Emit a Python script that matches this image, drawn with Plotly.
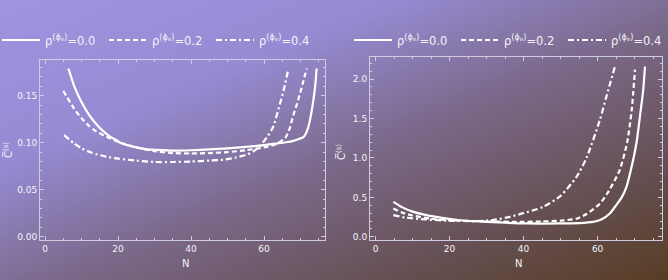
import base64
import plotly.graph_objects as go

# ---------------- data ----------------
L_x0 = [6.4, 8, 10, 12, 14, 16, 18, 19.5, 20.5, 22, 25, 28, 30, 35, 40, 45, 50, 55, 60, 63, 66, 68, 69.5, 70.8, 72, 73.1, 74, 74.4]
L_y0 = [0.179, 0.160, 0.143, 0.130, 0.120, 0.112, 0.106, 0.103, 0.100, 0.098, 0.095, 0.093, 0.0925, 0.0915, 0.092, 0.093, 0.094, 0.0955, 0.0975, 0.099, 0.1005, 0.102, 0.104, 0.106, 0.115, 0.135, 0.160, 0.179]
L_x2 = [5, 8, 10, 12, 14, 17, 20, 25, 30, 35, 40, 45, 50, 55, 60, 63, 65.8, 67, 68, 69, 69.9, 70.8, 71.7]
L_y2 = [0.155, 0.136, 0.126, 0.118, 0.112, 0.106, 0.101, 0.095, 0.091, 0.089, 0.0885, 0.089, 0.090, 0.092, 0.095, 0.098, 0.105, 0.115, 0.129, 0.141, 0.153, 0.166, 0.179]
L_x4 = [5.2, 8, 10, 13, 16.9, 20, 25, 30, 35, 40, 45, 49, 52, 55, 57, 59, 61, 62.5, 64.4, 65.5, 66.7]
L_y4 = [0.108, 0.099, 0.094, 0.089, 0.085, 0.083, 0.081, 0.0795, 0.0795, 0.080, 0.081, 0.082, 0.084, 0.087, 0.0905, 0.097, 0.107, 0.117, 0.142, 0.158, 0.179]

R_x0 = [4.8, 7, 10, 13.8, 18, 22.8, 30, 40.8, 50, 55, 58.8, 61, 63.3, 65, 66.5, 67.8, 69, 70.5, 71.5, 72.3, 72.8]
R_y0 = [0.444, 0.38, 0.32, 0.275, 0.24, 0.21, 0.19, 0.17, 0.17, 0.175, 0.19, 0.22, 0.297, 0.40, 0.50, 0.635, 0.85, 1.19, 1.55, 1.85, 2.16]
R_x2 = [4.8, 7, 10, 15, 20, 30, 40, 45, 50, 54.3, 57, 60.6, 63, 66, 68, 69.2, 70.1]
R_y2 = [0.36, 0.31, 0.27, 0.23, 0.21, 0.195, 0.19, 0.195, 0.205, 0.23, 0.29, 0.42, 0.58, 0.85, 1.2, 1.6, 2.12]
R_x4 = [4.8, 8, 13.8, 20, 27.3, 32, 36.3, 40, 45.3, 50, 54.3, 57, 60.6, 62.5, 64.7]
R_y4 = [0.275, 0.245, 0.22, 0.205, 0.2, 0.215, 0.254, 0.3, 0.38, 0.52, 0.76, 1.0, 1.48, 1.8, 2.16]

series_names = ["ρ<sup>(ϕ<sub>e</sub>)</sup>=0.0", "ρ<sup>(ϕ<sub>e</sub>)</sup>=0.2", "ρ<sup>(ϕ<sub>e</sub>)</sup>=0.4"]
x_ticks = [0, 20, 40, 60]
left_yticks = [0.00, 0.05, 0.10, 0.15]
right_yticks = [0.0, 0.5, 1.0, 1.5, 2.0]

# ---------------- figure ----------------
W, H = 668, 280
WHITE = "#ffffff"
AX = "#cfcbe0"
TXT = "#f4f4f8"
dashes = ["solid", "5px,3px", "6px,3px,2px,3px"]

fig = go.Figure()
left = [(L_x0, L_y0), (L_x2, L_y2), (L_x4, L_y4)]
right = [(R_x0, R_y0), (R_x2, R_y2), (R_x4, R_y4)]
for i, (xs, ys) in enumerate(left):
    fig.add_trace(go.Scatter(x=xs, y=ys, mode="lines", name=series_names[i],
                             line=dict(color=WHITE, width=2.2, dash=dashes[i], shape="spline", smoothing=0.6),
                             xaxis="x", yaxis="y", legend="legend"))
for i, (xs, ys) in enumerate(right):
    fig.add_trace(go.Scatter(x=xs, y=ys, mode="lines", name=series_names[i],
                             line=dict(color=WHITE, width=2.2, dash=dashes[i], shape="spline", smoothing=0.6),
                             xaxis="x2", yaxis="y2", legend="legend2"))

svg = f'''<svg xmlns="http://www.w3.org/2000/svg" width="{W}" height="{H}" viewBox="0 0 {W} {H}" preserveAspectRatio="none">
<defs><linearGradient id="g" x1="0" y1="0" x2="1" y2="1">
<stop offset="0" stop-color="#9e94e0"/>
<stop offset="0.3" stop-color="#968ad2"/>
<stop offset="0.55" stop-color="#7a6888"/>
<stop offset="0.8" stop-color="#654e50"/>
<stop offset="1" stop-color="#583d24"/>
</linearGradient></defs>
<rect x="0" y="0" width="{W}" height="{H}" fill="url(#g)"/></svg>'''
src = "data:image/svg+xml;base64," + base64.b64encode(svg.encode()).decode()


def px_x(p):
    return p / W


def px_y(p):
    return 1 - p / H


tickfont = dict(family="DejaVu Sans", size=9, color=TXT)
common_x = dict(showgrid=False, zeroline=False, showline=True, linecolor=AX, linewidth=1, mirror="allticks",
                ticks="inside", ticklen=4, tickcolor=AX, tickfont=tickfont, tickvals=x_ticks,
                minor=dict(dtick=5, ticks="inside", ticklen=2, tickcolor=AX))
common_y = dict(showgrid=False, zeroline=False, showline=True, linecolor=AX, linewidth=1, mirror="allticks",
                ticks="inside", ticklen=4, tickcolor=AX, tickfont=tickfont)

legfont = dict(family="DejaVu Sans", size=11.5, color=TXT)
fig.update_layout(
    width=W, height=H, margin=dict(l=0, r=0, t=0, b=0, pad=0, autoexpand=False),
    paper_bgcolor="#7c6b8e", plot_bgcolor="rgba(0,0,0,0)",
    images=[dict(source=src, xref="paper", yref="paper", x=0, y=1, sizex=1, sizey=1,
                 sizing="stretch", layer="below", xanchor="left", yanchor="top")],
    xaxis=dict(domain=[px_x(40), px_x(325)], range=[-1.4, 76.7], anchor="y", **common_x),
    yaxis=dict(domain=[px_y(240), px_y(60)], range=[-0.0035, 0.188], anchor="x",
               tickvals=left_yticks, ticktext=[f"{v:.2f}" for v in left_yticks],
               minor=dict(dtick=0.01, ticks="inside", ticklen=2, tickcolor=AX), **common_y),
    xaxis2=dict(domain=[px_x(370), px_x(662)], range=[-1.5, 77.4], anchor="y2", **common_x),
    yaxis2=dict(domain=[px_y(240), px_y(57)], range=[-0.04, 2.28], anchor="x2",
                tickvals=right_yticks, ticktext=[f"{v:.1f}" for v in right_yticks],
                minor=dict(dtick=0.1, ticks="inside", ticklen=2, tickcolor=AX), **common_y),
    legend=dict(orientation="h", x=px_x(-3), xanchor="left", y=px_y(40), yanchor="middle",
                bgcolor="rgba(0,0,0,0)", font=legfont, itemwidth=38,
                entrywidth=54, entrywidthmode="pixels", tracegroupgap=0),
    legend2=dict(orientation="h", x=px_x(349), xanchor="left", y=px_y(40), yanchor="middle",
                 bgcolor="rgba(0,0,0,0)", font=legfont, itemwidth=38,
                 entrywidth=54, entrywidthmode="pixels", tracegroupgap=0),
    showlegend=True,
)

ann_font = dict(family="DejaVu Sans", size=10, color=TXT)
fig.add_annotation(text="N", x=px_x(186), y=px_y(263), xref="paper", yref="paper", showarrow=False,
                   xanchor="center", yanchor="middle", font=ann_font)
fig.add_annotation(text="N", x=px_x(518), y=px_y(263), xref="paper", yref="paper", showarrow=False,
                   xanchor="center", yanchor="middle", font=ann_font)
fig.add_annotation(text="C̅<sup>(s)</sup>", x=px_x(8), y=px_y(150), xref="paper", yref="paper", showarrow=False,
                   xanchor="center", yanchor="middle", textangle=-90, font=dict(family="DejaVu Sans", size=10, color=TXT))
fig.add_annotation(text="C̅<sup>(s)</sup>", x=px_x(341), y=px_y(152), xref="paper", yref="paper", showarrow=False,
                   xanchor="center", yanchor="middle", textangle=-90, font=dict(family="DejaVu Sans", size=10, color=TXT))

fig.write_html("out.html")
